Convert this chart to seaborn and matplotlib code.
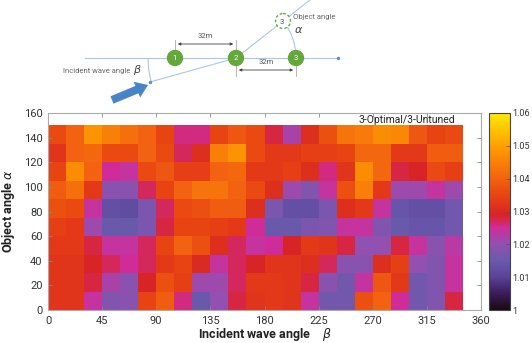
import numpy as np
import pandas as pd
import matplotlib
matplotlib.use("Agg")
import matplotlib.pyplot as plt
import seaborn as sns
from matplotlib.colors import LinearSegmentedColormap
from matplotlib.patches import Circle, Arc, FancyArrow

# incident wave angle (columns) and object angle (rows), 15 deg bins
beta = list(range(0, 345, 15))
alpha = list(range(0, 150, 15))

# ratio values, read top row (alpha 135) to bottom row (alpha 0)
row_135 = [1.036, 1.040, 1.048, 1.045, 1.042, 1.040, 1.035, 1.026, 1.026, 1.035, 1.038, 1.036, 1.028, 1.022, 1.031, 1.037, 1.043, 1.044, 1.047, 1.046, 1.038, 1.035, 1.036]
row_120 = [1.032, 1.040, 1.041, 1.036, 1.036, 1.040, 1.036, 1.027, 1.031, 1.045, 1.048, 1.036, 1.033, 1.033, 1.034, 1.034, 1.035, 1.041, 1.041, 1.033, 1.033, 1.039, 1.039]
row_105 = [1.035, 1.047, 1.040, 1.025, 1.024, 1.036, 1.038, 1.034, 1.034, 1.040, 1.041, 1.033, 1.033, 1.034, 1.031, 1.026, 1.032, 1.047, 1.041, 1.028, 1.029, 1.036, 1.034]
row_90 = [1.039, 1.042, 1.033, 1.019, 1.019, 1.027, 1.035, 1.040, 1.043, 1.043, 1.040, 1.036, 1.031, 1.021, 1.018, 1.024, 1.037, 1.045, 1.033, 1.021, 1.021, 1.024, 1.021]
row_75 = [1.037, 1.036, 1.024, 1.013, 1.012, 1.017, 1.027, 1.036, 1.037, 1.039, 1.039, 1.031, 1.017, 1.013, 1.013, 1.017, 1.031, 1.033, 1.024, 1.014, 1.013, 1.013, 1.016]
row_60 = [1.034, 1.033, 1.021, 1.015, 1.015, 1.017, 1.028, 1.035, 1.035, 1.034, 1.033, 1.025, 1.015, 1.015, 1.017, 1.018, 1.024, 1.024, 1.018, 1.015, 1.014, 1.014, 1.016]
row_45 = [1.033, 1.033, 1.028, 1.024, 1.024, 1.027, 1.035, 1.040, 1.037, 1.031, 1.027, 1.024, 1.025, 1.029, 1.033, 1.032, 1.028, 1.020, 1.020, 1.028, 1.024, 1.019, 1.023]
row_30 = [1.032, 1.032, 1.029, 1.027, 1.025, 1.027, 1.033, 1.035, 1.030, 1.024, 1.027, 1.029, 1.032, 1.032, 1.031, 1.027, 1.019, 1.019, 1.031, 1.034, 1.020, 1.018, 1.024]
row_15 = [1.032, 1.032, 1.028, 1.022, 1.019, 1.029, 1.037, 1.034, 1.021, 1.021, 1.027, 1.033, 1.033, 1.032, 1.028, 1.019, 1.016, 1.024, 1.038, 1.033, 1.016, 1.018, 1.024]
row_0 = [1.032, 1.032, 1.024, 1.018, 1.019, 1.035, 1.039, 1.026, 1.015, 1.020, 1.028, 1.032, 1.033, 1.032, 1.024, 1.016, 1.016, 1.037, 1.040, 1.025, 1.016, 1.018, 1.028]

x_ticks = [0, 45, 90, 135, 180, 225, 270, 315, 360]
y_ticks = [0, 20, 40, 60, 80, 100, 120, 140, 160]
cbar_ticks = [1.0, 1.01, 1.02, 1.03, 1.04, 1.05, 1.06]
cbar_labels = ["1", "1.01", "1.02", "1.03", "1.04", "1.05", "1.06"]

df = pd.DataFrame([row_0, row_15, row_30, row_45, row_60, row_75, row_90, row_105, row_120, row_135],
                  index=alpha, columns=beta)

stops = [(0.0, "#1a0a12"), (5 / 60, "#3c1c5c"), (10 / 60, "#5a4298"), (15 / 60, "#6a5aac"),
         (20 / 60, "#9250b0"), (25 / 60, "#d02c9a"), (29 / 60, "#d82424"), (35 / 60, "#e84412"),
         (40 / 60, "#f26210"), (45 / 60, "#f88008"), (50 / 60, "#ffa000"), (1.0, "#ffe800")]
cmap = LinearSegmentedColormap.from_list("ratio", stops)

plt.rcParams["font.family"] = ["Roboto", "DejaVu Sans"]
plt.rcParams["mathtext.fontset"] = "dejavusans"

fig = plt.figure(figsize=(5.32, 3.43), dpi=100)

# schematic drawn in pixel coordinates
ov = fig.add_axes([0, 0, 1, 1])
ov.set_xlim(0, 532)
ov.set_ylim(343, 0)
ov.axis("off")
line_c = "#a9c7e6"
green = "#64a83c"
ov.plot([85, 338], [58, 58], color=line_c, lw=0.8)
ov.plot([338], [58], marker="o", ms=1.5, color="#5b8fd0")
ov.plot([150, 236], [82, 58], color=line_c, lw=0.8)
ov.plot([236, 310], [58, 0], color=line_c, lw=0.8)
ov.plot([150], [82], marker="o", ms=1.5, color="#5b8fd0")
# y axis is flipped, so screen-up angles are negative here
ov.add_patch(Arc((236, 58), 176, 176, theta1=164, theta2=180, color=line_c, lw=0.8))
ov.add_patch(Arc((236, 58), 120, 120, theta1=-33, theta2=-8, color=line_c, lw=0.8))
for cx, lab in [(175, "1"), (236, "2"), (296, "3")]:
    ov.add_patch(Circle((cx, 58), 7.5, color=green, zorder=3))
    ov.text(cx, 58.5, lab, color="white", fontsize=5.5, ha="center", va="center", zorder=4)
ov.add_patch(Circle((283, 21), 7.5, facecolor="white", edgecolor=green, ls=(0, (2, 1.5)), lw=1, zorder=3))
ov.text(282, 21.5, "3", color="#2c4f8c", fontsize=5.5, ha="center", va="center", zorder=4)
for x0, x1, y, ylo, yhi, tx, ty in [(175, 236, 44, 40, 58, 205, 36), (236, 296, 70, 58, 76, 266, 62)]:
    ov.annotate("", xy=(x1, y), xytext=(x0, y),
                arrowprops=dict(arrowstyle="<|-|>", color="#444444", lw=0.6, mutation_scale=4))
    ov.plot([x0, x0], [ylo, yhi], color="#999999", lw=0.5)
    ov.plot([x1, x1], [ylo, yhi], color="#999999", lw=0.5)
    ov.text(tx, ty, "32m", fontsize=5.5, color="#555555", ha="center", va="center")
ov.text(293, 17, "Object angle", fontsize=5.5, color="#666666", ha="left", va="center")
ov.text(294, 30, r"$\alpha$", fontsize=8, color="#444444", ha="left", va="center")
ov.text(130, 71, "Incident wave angle", fontsize=5.5, color="#666666", ha="right", va="center")
ov.text(133, 70, r"$\beta$", fontsize=8, color="#444444", ha="left", va="center")
ov.add_patch(FancyArrow(112, 100, 36, -15, width=8, head_width=17, head_length=12,
                        length_includes_head=True, color="#4a84c8", lw=0))

ax = fig.add_axes([48 / 532, 33 / 343, 433 / 532, 197 / 343])
cax = fig.add_axes([489 / 532, 33 / 343, 21 / 532, 197 / 343])
sns.heatmap(df, ax=ax, cmap=cmap, vmin=1.0, vmax=1.06, cbar_ax=cax,
            xticklabels=False, yticklabels=False)

ax.set_xlim(0, 360 / 15)
ax.set_ylim(0, 160 / 15)
ax.set_xticks([t / 15 for t in x_ticks])
ax.set_xticklabels([str(t) for t in x_ticks])
ax.set_yticks([t / 15 for t in y_ticks])
ax.set_yticklabels([str(t) for t in y_ticks], rotation=0)
for s in ax.spines.values():
    s.set_visible(True)
    s.set_color("#aaaaaa")
    s.set_linewidth(0.8)
ax.tick_params(direction="in", top=True, right=True, length=3, width=0.6, color="#888888",
               labelsize=8, labelcolor="#333333", pad=4)
ax.set_xlabel(r"Incident wave angle    $\beta$", fontsize=9, fontweight="bold", color="#222222", labelpad=0)
ax.set_ylabel(r"Object angle $\alpha$", fontsize=9, fontweight="bold", color="#222222", labelpad=5)
ax.text(0.94, 0.965, "3-Optimal/3-Untuned", transform=ax.transAxes, ha="right", va="center",
        fontsize=7.5, color="#222222")

cb = ax.collections[0].colorbar
cb.outline.set_visible(True)
cb.outline.set_linewidth(0.8)
cb.outline.set_edgecolor("#444444")
cb.set_ticks(cbar_ticks)
cb.set_ticklabels(cbar_labels)
cax.tick_params(direction="in", length=3, width=0.6, color="#555555", labelsize=6.5,
                labelcolor="#333333", pad=1.5)

fig.savefig("out.png", dpi=100)
